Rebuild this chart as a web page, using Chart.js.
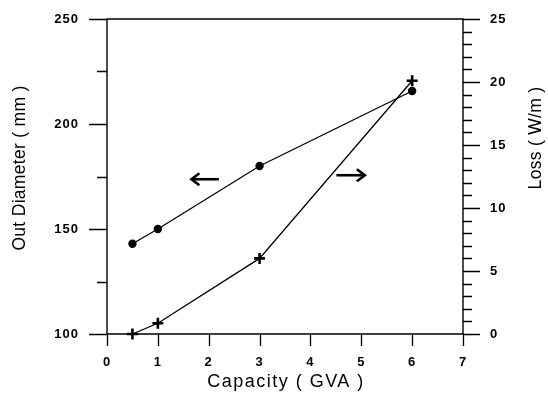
<!DOCTYPE html>
<html><head><meta charset="utf-8">
<script src="https://cdn.jsdelivr.net/npm/chart.js@4/dist/chart.umd.min.js"></script>
<style>html,body{margin:0;padding:0;background:#fff}#wrap{width:548px;height:395px}</style>
</head><body><div id="wrap"><canvas id="c" width="548" height="395"></canvas></div>
<script>
// ---- data ----
const capacity = [0.5, 1, 3, 6];
const outDiameter = [143, 150, 180, 215.7];
const loss = [0, 0.85, 6, 20.1];
const xTicks = [0, 1, 2, 3, 4, 5, 6, 7];
const leftMajor = [100, 150, 200, 250];
const leftMinor = [125, 175, 225];
const rightMajor = [0, 5, 10, 15, 20, 25];
const rightMinor = [1, 2, 3, 4, 6, 7, 8, 9, 11, 12, 13, 14, 16, 17, 18, 19, 21, 22, 23, 24];
const xTitle = 'Capacity ( GVA )';
const leftTitle = 'Out Diameter ( mm )';
const rightTitle = 'Loss ( W/m )';
// arrows: [tailX, headX, y, axis]
const arrowTailX = [2.2, 4.51];
const arrowHeadX = [1.66, 5.07];
const arrowY = [173.7, 12.6];
const arrowAxis = ['y', 'y1'];

const FONT = "'Liberation Sans', Arial, sans-serif";

const deco = {
  id: 'deco',
  beforeDraw(chart) { chart.ctx.letterSpacing = '1px'; },
  afterDraw(chart) {
    const ctx = chart.ctx;
    const a = chart.chartArea;
    const sx = chart.scales.x, sy = chart.scales.y, sy1 = chart.scales.y1;
    ctx.save();
    ctx.letterSpacing = '0px';
    ctx.strokeStyle = '#000';
    ctx.lineWidth = 1.4;
    ctx.beginPath();
    ctx.rect(a.left, a.top, a.right - a.left, a.bottom - a.top);
    ctx.stroke();
    ctx.lineWidth = 1.3;
    ctx.beginPath();
    leftMajor.forEach(v => { const y = Math.round(sy.getPixelForValue(v)) + 0.5; ctx.moveTo(a.left - 18, y); ctx.lineTo(a.left, y); });
    leftMinor.forEach(v => { const y = Math.round(sy.getPixelForValue(v)) + 0.5; ctx.moveTo(a.left - 10, y); ctx.lineTo(a.left, y); });
    rightMajor.forEach(v => { const y = Math.round(sy1.getPixelForValue(v)) + 0.5; ctx.moveTo(a.right, y); ctx.lineTo(a.right + 17, y); });
    rightMinor.forEach(v => { const y = Math.round(sy1.getPixelForValue(v)) + 0.5; ctx.moveTo(a.right, y); ctx.lineTo(a.right + 9, y); });
    xTicks.forEach(v => { const x = Math.round(sx.getPixelForValue(v)) + 0.5; ctx.moveTo(x, a.bottom); ctx.lineTo(x, a.bottom + 12); });
    ctx.stroke();

    // arrows
    ctx.lineWidth = 2.6;
    ctx.lineCap = 'butt';
    ctx.lineJoin = 'miter';
    arrowTailX.forEach((tx, i) => {
      const scY = chart.scales[arrowAxis[i]];
      const x0 = sx.getPixelForValue(tx), x1 = sx.getPixelForValue(arrowHeadX[i]);
      const y = scY.getPixelForValue(arrowY[i]);
      const dir = Math.sign(x1 - x0);
      ctx.beginPath();
      ctx.moveTo(x0, y); ctx.lineTo(x1 - dir * 1, y);
      ctx.stroke();
      ctx.beginPath();
      ctx.moveTo(x1 - dir * 8, y - 6);
      ctx.lineTo(x1, y);
      ctx.lineTo(x1 - dir * 8, y + 6);
      ctx.stroke();
    });

    // titles
    ctx.fillStyle = '#000';
    ctx.font = '18px ' + FONT;
    ctx.letterSpacing = '1.5px';
    ctx.textAlign = 'center';
    ctx.textBaseline = 'middle';
    ctx.fillText(xTitle, (a.left + a.right) / 2 + 1, 382);
    ctx.letterSpacing = '0.3px';
    ctx.font = '17.5px ' + FONT;
    ctx.save();
    ctx.translate(20, 168);
    ctx.rotate(-Math.PI / 2);
    ctx.fillText(leftTitle, 0, 0);
    ctx.restore();
    ctx.save();
    ctx.translate(536, 138);
    ctx.rotate(-Math.PI / 2);
    ctx.fillText(rightTitle, 0, 0);
    ctx.restore();
    ctx.restore();
    ctx.letterSpacing = '0px';
  }
};

const tickFont = { family: FONT, size: 13, weight: 'bold' };
const hiddenGrid = (len) => ({ drawOnChartArea: false, color: 'transparent', tickColor: 'transparent', drawTicks: true, tickLength: len });

new Chart(document.getElementById('c'), {
  type: 'scatter',
  data: {
    datasets: [
      {
        data: capacity.map((x, i) => ({ x, y: outDiameter[i] })),
        yAxisID: 'y', showLine: true, borderColor: '#000', borderWidth: 1.3, clip: false,
        pointStyle: 'circle', pointRadius: 4.2, pointBackgroundColor: '#000', pointBorderColor: '#000', pointBorderWidth: 0
      },
      {
        data: capacity.map((x, i) => ({ x, y: loss[i] })),
        yAxisID: 'y1', showLine: true, borderColor: '#000', borderWidth: 1.3, clip: false,
        pointStyle: 'cross', pointRadius: 5.5, pointBorderColor: '#000', pointBorderWidth: 2.6
      }
    ]
  },
  options: {
    responsive: false, animation: false, devicePixelRatio: 1,
    layout: { padding: { top: 19, left: 0, right: 0, bottom: 0 } },
    plugins: { legend: { display: false }, tooltip: { enabled: false } },
    scales: {
      x: {
        type: 'linear', min: 0, max: 7,
        ticks: { stepSize: 1, font: tickFont, color: '#000', padding: 9, maxRotation: 0 },
        grid: hiddenGrid(12), border: { display: false },
        afterFit: s => { s.height = 61; }
      },
      y: {
        position: 'left', min: 100, max: 250,
        ticks: { stepSize: 50, font: tickFont, color: '#000', padding: 10 },
        grid: hiddenGrid(18), border: { display: false },
        afterFit: s => { s.width = 107; }
      },
      y1: {
        position: 'right', min: 0, max: 25,
        ticks: { stepSize: 5, font: tickFont, color: '#000', padding: 10 },
        grid: hiddenGrid(17), border: { display: false },
        afterFit: s => { s.width = 85; }
      }
    }
  },
  plugins: [deco]
});
</script>
</body></html>
